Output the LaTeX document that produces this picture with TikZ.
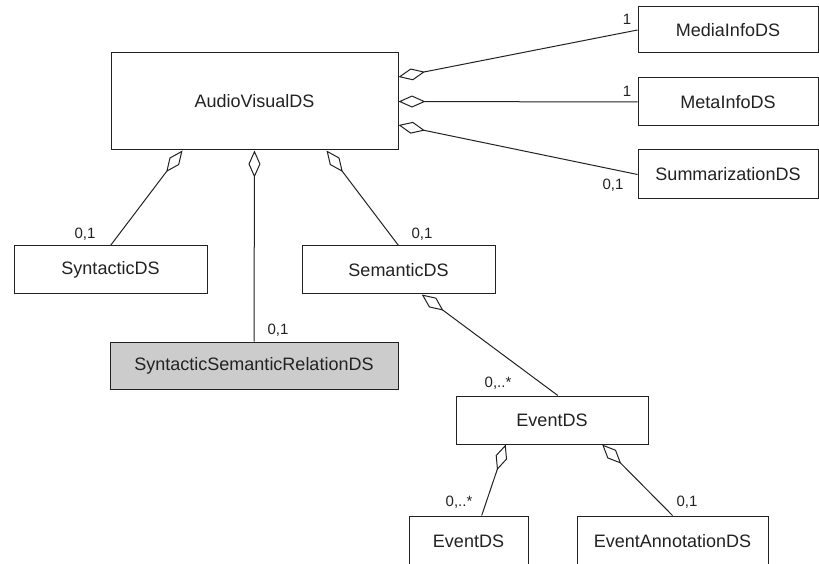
\documentclass[tikz,border=0pt]{standalone}
\usepackage{fontspec}
\setmainfont{Liberation Sans}
\usetikzlibrary{arrows.meta,calc}
\definecolor{boxgray}{RGB}{204,204,204}
\definecolor{ink}{RGB}{34,34,34}
\tikzset{
  ds/.style={draw=ink, line width=1pt, fill=white, text=ink, inner sep=0pt,
    font=\fontsize{18}{20}\selectfont},
  mult/.style={text=ink, inner sep=0pt, font=\fontsize{15}{17}\selectfont},
  agg/.style={draw=ink, line width=1pt,
    -{Diamond[open,length=27pt,width=12pt,line width=1pt]}},
}
\begin{document}
\begin{tikzpicture}[x=1pt,y=1pt]
    \clip (0,0) rectangle (819,563);
    % boxes
    \node[ds, minimum width=287pt, minimum height=97pt] (av) at (254.5,461.5) {AudioVisualDS};
    \node[ds, minimum width=180pt, minimum height=46pt] (media) at (728,533) {MediaInfoDS};
    \node[ds, minimum width=180pt, minimum height=48pt] (meta) at (728,461) {MetaInfoDS};
    \node[ds, minimum width=180pt, minimum height=49pt] (summ) at (728,388.5) {SummarizationDS};
    \node[ds, minimum width=193pt, minimum height=48pt] (syn) at (110.5,293) {SyntacticDS};
    \node[ds, minimum width=193pt, minimum height=48pt] (sem) at (398.5,293) {SemanticDS};
    \node[ds, fill=boxgray, minimum width=288pt, minimum height=47pt] (ssr) at (254,197.5) {SyntacticSemanticRelationDS};
    \node[ds, minimum width=192pt, minimum height=48pt] (ev) at (552,143) {EventDS};
    \node[ds, minimum width=119pt, minimum height=50pt] (ev2) at (468.5,22) {EventDS};
    \node[ds, minimum width=191pt, minimum height=50pt] (ann) at (672.5,22) {EventAnnotationDS};

    % attachment points
    \coordinate (av-e1) at ($(av.north east)!0.25!(av.south east)$);
    \coordinate (av-e2) at (av.east);
    \coordinate (av-e3) at ($(av.north east)!0.74!(av.south east)$);
    \coordinate (av-s1) at ($(av.south west)!0.25!(av.south east)$);
    \coordinate (av-s2) at (av.south);
    \coordinate (av-s3) at ($(av.south west)!0.75!(av.south east)$);
    \coordinate (sem-s) at ($(sem.south west)!0.62!(sem.south east)$);
    \coordinate (ev-n) at ($(ev.north west)!0.53!(ev.north east)$);
    \coordinate (ev-s1) at ($(ev.south west)!0.26!(ev.south east)$);
    \coordinate (ev-s2) at ($(ev.south west)!0.76!(ev.south east)$);
    \coordinate (ev2-n) at ($(ev2.north west)!0.61!(ev2.north east)$);

    % aggregations
    \draw[agg] (media.west) -- (av-e1);
    \draw[agg] (meta.west) -- (av-e2);
    \draw[agg] (summ.west) -- (av-e3);
    \draw[agg] (syn.north) -- (av-s1);
    \draw[agg] (ssr.north) -- (av-s2);
    \draw[agg] (sem.north) -- (av-s3);
    \draw[agg] (ev-n) -- (sem-s);
    \draw[agg] (ev2-n) -- (ev-s1);
    \draw[agg] (ann.north) -- (ev-s2);

    % multiplicities
    \node[mult] (m-media) at (627,544) {1};
    \node[mult] (m-meta) at (627,472) {1};
    \node[mult] (m-summ) at (613,378) {0,1};
    \node[mult] (m-syn) at (85,329) {0,1};
    \node[mult] (m-sem) at (422,329) {0,1};
    \node[mult] (m-ssr) at (278,233) {0,1};
    \node[mult] (m-ev) at (498,180) {0,..*};
    \node[mult] (m-ev2) at (459,61) {0,..*};
    \node[mult] (m-ann) at (687,61) {0,1};
\end{tikzpicture}
\end{document}
